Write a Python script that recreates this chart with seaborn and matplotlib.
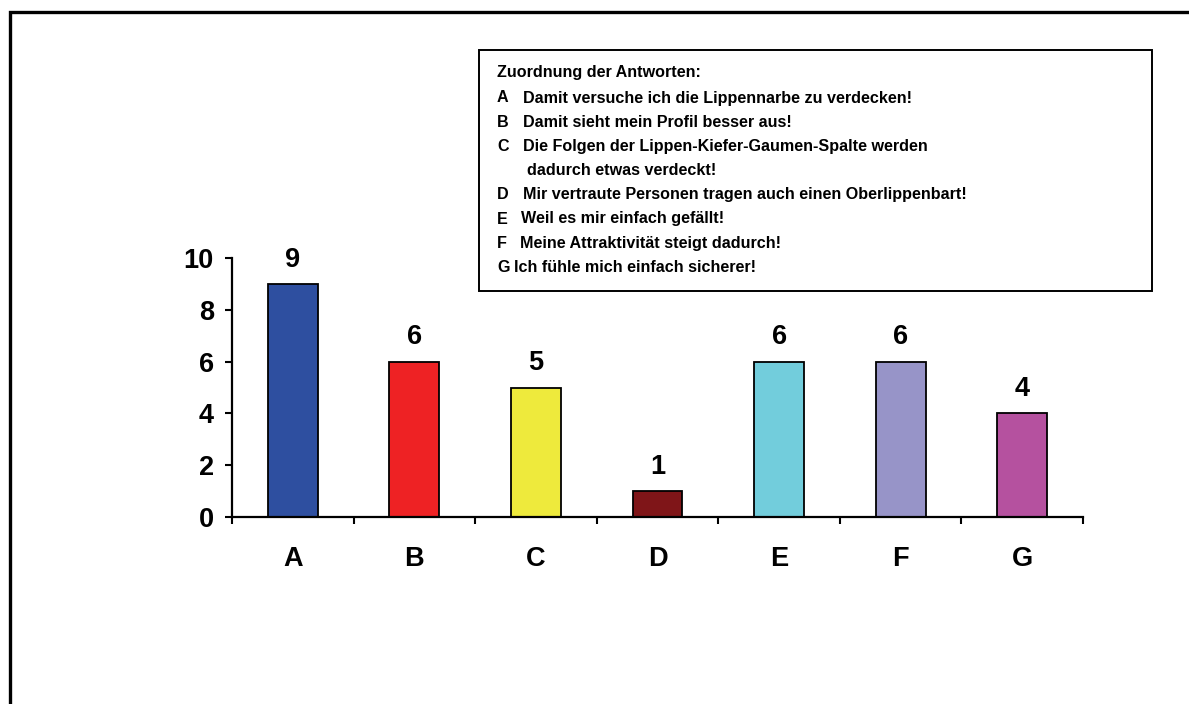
import matplotlib
matplotlib.use("Agg")
import matplotlib.pyplot as plt
from matplotlib.patches import Rectangle
import seaborn as sns
import pandas as pd

# Answer categories and how often each was given
categories = ["A", "B", "C", "D", "E", "F", "G"]
counts = [9, 6, 5, 1, 6, 6, 4]
bar_colors = ["#2E4FA0", "#EE2224", "#EEEA3C", "#7F1518", "#72CDDC", "#9794C8", "#B5519F"]

legend_title = "Zuordnung der Antworten:"
legend_items = [
    ("A", "Damit versuche ich die Lippennarbe zu verdecken!"),
    ("B", "Damit sieht mein Profil besser aus!"),
    ("C", "Die Folgen der Lippen-Kiefer-Gaumen-Spalte werden"),
    ("", " dadurch etwas verdeckt!"),
    ("D", "Mir vertraute Personen tragen auch einen Oberlippenbart!"),
    ("E", "Weil es mir einfach gefällt!"),
    ("F", "Meine Attraktivität steigt dadurch!"),
    ("G", "Ich fühle mich einfach sicherer!"),
]

sns.set_theme(style="white")
plt.rcParams["font.family"] = ["Liberation Sans", "DejaVu Sans"]
plt.rcParams["font.weight"] = "bold"
plt.rcParams["text.color"] = "black"
plt.rcParams["xtick.color"] = "black"
plt.rcParams["ytick.color"] = "black"

W, H = 1189, 704
fig = plt.figure(figsize=(W / 100, H / 100), dpi=100)
fig.patch.set_facecolor("white")

def fx(px):
    return px / W

def fy(py):
    return 1 - py / H

ax = fig.add_axes([fx(232), fy(517), fx(1083) - fx(232), fy(258) - fy(517)])

df = pd.DataFrame({"cat": categories, "n": counts})
sns.barplot(data=df, x="cat", y="n", hue="cat", palette=bar_colors,
            width=0.41, legend=False, ax=ax, saturation=1)
for p in ax.patches:
    p.set_edgecolor("black")
    p.set_linewidth(1.3)

ax.set_xlim(-0.5, len(categories) - 0.5)
ax.set_ylim(0, 10)
ax.set_xlabel("")
ax.set_ylabel("")
ax.set_facecolor("white")

for side in ["top", "right"]:
    ax.spines[side].set_visible(False)
for side in ["left", "bottom"]:
    ax.spines[side].set_color("black")
    ax.spines[side].set_linewidth(1.6)

big = 19.5
ax.set_yticks(range(0, 11, 2))
ax.tick_params(axis="y", direction="out", length=5, width=1.5, color="black",
               left=True, pad=8, labelsize=big, labelcolor="black")
ax.set_xticks(range(len(categories)))
ax.set_xticklabels(categories)
ax.tick_params(axis="x", which="major", length=0, pad=21, labelsize=big, labelcolor="black")
ax.set_xticks([i - 0.5 for i in range(len(categories) + 1)], minor=True)
ax.tick_params(axis="x", which="minor", direction="out", length=5, width=1.5,
               color="black", bottom=True)
for lbl in ax.get_xticklabels() + ax.get_yticklabels():
    lbl.set_fontweight("bold")

for i, v in enumerate(counts):
    ax.annotate(str(v), xy=(i, v), xytext=(0, 17.5), textcoords="offset points",
                ha="center", va="center", fontsize=big, fontweight="bold", color="black")

# Outer frame running off the right and bottom edges
fig.patches.append(Rectangle((fx(9.5), fy(760)), fx(1300) - fx(9.5), fy(12.5) - fy(760),
                             transform=fig.transFigure, fill=False,
                             edgecolor="black", linewidth=2.4))

# Key box explaining the letters
fig.patches.append(Rectangle((fx(479), fy(291)), fx(1152) - fx(479), fy(50) - fy(291),
                             transform=fig.transFigure, fill=False,
                             edgecolor="black", linewidth=1.4))

fs = 11.6
fig.text(fx(497), fy(73), legend_title, fontsize=fs, fontweight="bold", va="center", ha="left")
text_x = [523, 523, 523, 527, 523, 521, 520, 514]
for k, ((letter, desc), tx) in enumerate(zip(legend_items, text_x)):
    y = 98 + k * 24.2
    if letter:
        fig.text(fx(497), fy(y), letter, fontsize=fs, fontweight="bold", va="center", ha="left")
    fig.text(fx(tx), fy(y), desc.strip(), fontsize=fs, fontweight="bold", va="center", ha="left")

fig.savefig("out.png", dpi=100, facecolor="white")
